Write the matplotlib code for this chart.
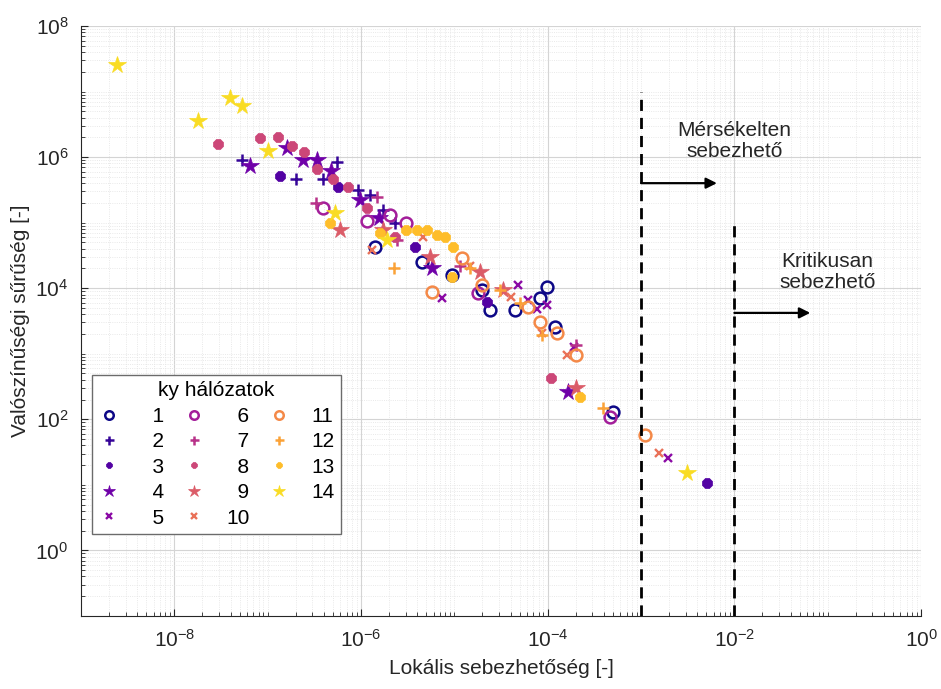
import numpy as np
import matplotlib
matplotlib.use("Agg")
import matplotlib.pyplot as plt
from matplotlib.ticker import LogLocator, NullFormatter

plt.rcParams["font.family"] = ["Liberation Sans", "DejaVu Sans"]
plt.rcParams["mathtext.fontset"] = "custom"
plt.rcParams["mathtext.rm"] = "Liberation Sans"

# one pair of lists per network (x: local vulnerability, y: density)
x1 = [1.41e-6, 4.5e-6, 9.5e-6, 2.0e-5, 2.4e-5, 4.5e-5, 8.3e-5, 9.9e-5, 1.2e-4, 5.0e-4]
y1 = [4.2e4, 2.5e4, 1.6e4, 9.3e3, 4.6e3, 4.6e3, 7.0e3, 1.04e4, 2.6e3, 1.3e2]
x2 = [5.3e-8, 2.0e-7, 3.9e-7, 5.5e-7, 9.3e-7, 1.25e-6, 1.7e-6, 2.3e-6]
y2 = [9.0e5, 4.6e5, 4.6e5, 8.4e5, 3.2e5, 2.6e5, 1.55e5, 1.0e5]
x3 = [1.35e-7, 5.7e-7, 3.8e-6, 2.25e-5, 5.1e-3]
y3 = [5.1e5, 3.5e5, 4.3e4, 6.1e3, 10.5]
x4 = [6.5e-8, 1.6e-7, 2.4e-7, 3.4e-7, 4.8e-7, 9.8e-7, 1.56e-6, 5.8e-6, 1.66e-4]
y4 = [7.3e5, 1.37e6, 9.0e5, 9.0e5, 6.1e5, 2.2e5, 1.17e5, 2.0e4, 2.6e2]
x5 = [7.4e-6, 4.8e-5, 6.2e-5, 7.7e-5, 9.9e-5, 1.9e-4, 1.95e-3]
y5 = [7.0e3, 1.1e4, 6.6e3, 4.9e3, 5.5e3, 1.26e3, 26]
x6 = [3.9e-7, 1.16e-6, 2.05e-6, 3.0e-6, 1.8e-5, 4.7e-4]
y6 = [1.7e5, 1.05e5, 1.3e5, 1.0e5, 8.4e3, 1.1e2]
x7 = [3.3e-7, 1.5e-6, 2.4e-6, 1.15e-5, 2.0e-4]
y7 = [2.0e5, 2.45e5, 5.4e4, 2.2e4, 1.35e3]
x8 = [2.9e-8, 8.3e-8, 1.3e-7, 1.8e-7, 2.45e-7, 3.4e-7, 5.0e-7, 7.3e-7, 1.16e-6, 2.3e-6, 1.09e-4]
y8 = [1.58e6, 1.95e6, 2.0e6, 1.47e6, 1.2e6, 6.6e5, 4.6e5, 3.5e5, 1.67e5, 6.0e4, 4.2e2]
x9 = [6.0e-7, 1.73e-6, 5.5e-6, 1.9e-5, 3.3e-5, 2.0e-4]
y9 = [7.7e4, 7.7e4, 3.0e4, 1.75e4, 9.3e3, 3.0e2]
x10 = [1.32e-6, 4.6e-6, 1.48e-5, 4.0e-5, 8.7e-5, 1.6e-4, 1.57e-3]
y10 = [3.8e4, 6.0e4, 2.2e4, 7.3e3, 2.05e3, 9.5e2, 31]
x11 = [5.8e-6, 1.2e-5, 2.0e-5, 6.2e-5, 8.3e-5, 1.26e-4, 2.0e-4, 1.1e-3]
y11 = [8.7e3, 2.9e4, 1.1e4, 5.1e3, 3.1e3, 2.05e3, 9.5e2, 57]
x12 = [2.27e-6, 1.48e-5, 3.1e-5, 5.1e-5, 8.7e-5, 3.9e-4]
y12 = [2.0e4, 2.0e4, 9.3e3, 5.9e3, 1.9e3, 1.5e2]
x13 = [4.7e-7, 1.6e-6, 3.0e-6, 4.0e-6, 5.1e-6, 6.5e-6, 7.9e-6, 9.7e-6, 9.5e-6, 2.2e-4]
y13 = [1.0e5, 6.9e4, 7.7e4, 7.7e4, 7.7e4, 6.4e4, 6.0e4, 4.3e4, 1.47e4, 2.2e2]
x14 = [2.4e-9, 1.78e-8, 3.9e-8, 5.3e-8, 1.0e-7, 5.3e-7, 1.9e-6, 3.1e-3]
y14 = [2.5e7, 3.5e6, 7.9e6, 6.0e6, 1.23e6, 1.4e5, 5.4e4, 15]

xs = [x1, x2, x3, x4, x5, x6, x7, x8, x9, x10, x11, x12, x13, x14]
ys = [y1, y2, y3, y4, y5, y6, y7, y8, y9, y10, y11, y12, y13, y14]
# two spaces pad the one-digit labels so the numbers look right-aligned
labels = ["  1", "  2", "  3", "  4", "  5", "  6", "  7", "  8", "  9", "10",
          "11", "12", "13", "14"]

# marker cycle used for the networks: open circle, plus, dot, star, cross
styles = [
    dict(marker="o", ms=8.5, mew=1.8, filled=False),
    dict(marker="+", ms=9, mew=1.8, filled=True),
    dict(marker="8", ms=7.5, mew=0.5, filled=True),
    dict(marker="*", ms=13, mew=0.5, filled=True),
    dict(marker="x", ms=6, mew=1.7, filled=True),
]
colors = plt.cm.plasma(np.linspace(0.0, 0.93, 14))

fig = plt.figure(figsize=(9.41, 6.89), dpi=100)
ax = fig.add_axes([0.0861, 0.1060, 0.8927, 0.8563])

for i in range(14):
    st = styles[i % 5]
    c = colors[i]
    ax.plot(xs[i], ys[i], linestyle="none", marker=st["marker"], ms=st["ms"],
            mew=st["mew"], mec=c, mfc=c if st["filled"] else "none",
            label=labels[i], zorder=3)

# thresholds
ax.plot([1e-3, 1e-3], [0.1, 1e7], color="black", lw=2, dashes=(4, 2.5), zorder=4)
ax.plot([1e-2, 1e-2], [0.1, 1e5], color="black", lw=2, dashes=(4, 2.5), zorder=4)
arrow = dict(arrowstyle="-|>", color="black", lw=1.6, mutation_scale=16, shrinkA=0, shrinkB=0)
ax.annotate("", xy=(6.5e-3, 4e5), xytext=(1e-3, 4e5), arrowprops=arrow, zorder=4)
ax.annotate("", xy=(6.5e-2, 4.2e3), xytext=(1e-2, 4.2e3), arrowprops=arrow, zorder=4)
ax.text(1e-2, 1.75e6, "Mérsékelten\nsebezhető", ha="center", va="center",
        fontsize=15, color="#262626", linespacing=1.15)
ax.text(1e-1, 1.75e4, "Kritikusan\nsebezhető", ha="center", va="center",
        fontsize=15, color="#262626", linespacing=1.15)

ax.set_xscale("log")
ax.set_yscale("log")
ax.set_xlim(1e-9, 1e0)
ax.set_ylim(1e-1, 1e8)
ax.set_xticks([1e-8, 1e-6, 1e-4, 1e-2, 1e0])
ax.set_yticks([1e0, 1e2, 1e4, 1e6, 1e8])
ax.xaxis.set_minor_locator(LogLocator(base=10, subs=np.arange(1, 10), numticks=100))
ax.yaxis.set_minor_locator(LogLocator(base=10, subs=np.arange(1, 10), numticks=100))
ax.xaxis.set_minor_formatter(NullFormatter())
ax.yaxis.set_minor_formatter(NullFormatter())

ax.grid(True, which="major", color="#d4d4d4", lw=0.8)
ax.grid(True, which="minor", color="#e2e2e2", lw=0.6, linestyle=":")
ax.set_axisbelow(True)
for s in ["top", "right"]:
    ax.spines[s].set_visible(False)
for s in ["left", "bottom"]:
    ax.spines[s].set_color("#262626")
    ax.spines[s].set_linewidth(0.8)
ax.tick_params(which="both", direction="in", colors="#262626", labelsize=15)
ax.tick_params(which="major", length=5, pad=9)
ax.tick_params(which="minor", length=3)

ax.set_xlabel("Lokális sebezhetőség [-]", fontsize=15, color="#262626", labelpad=6)
ax.set_ylabel("Valószínűségi sűrűség [-]", fontsize=15, color="#262626", labelpad=4)

leg = ax.legend(ncol=3, title="ky hálózatok", loc="lower left",
                bbox_to_anchor=(0.013, 0.139), borderaxespad=0,
                fontsize=15, title_fontsize=15,
                handlelength=1.0, handletextpad=1.06, columnspacing=0.92,
                labelspacing=0.31, borderpad=0.3, markerscale=0.72,
                fancybox=False, framealpha=1, edgecolor="#6b6b6b")
leg.get_frame().set_linewidth(1.0)

fig.savefig("out.png", dpi=100)
